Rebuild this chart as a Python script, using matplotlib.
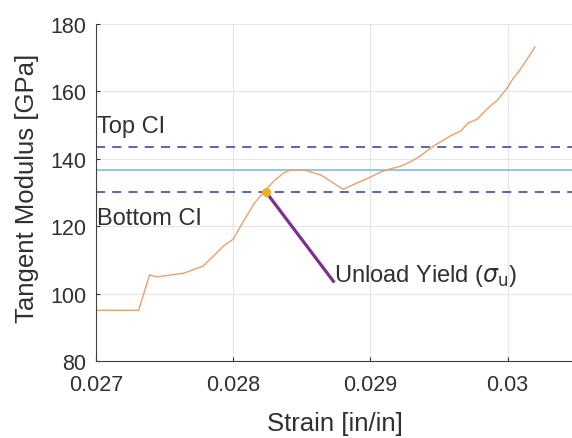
import matplotlib
matplotlib.use('Agg')
import matplotlib.pyplot as plt
import numpy as np

plt.rcParams['font.family'] = ['Liberation Sans', 'DejaVu Sans']
plt.rcParams['mathtext.fontset'] = 'dejavusans'

# tangent modulus curve
strain = [0.02700, 0.02731, 0.02739, 0.02744, 0.02764, 0.02778, 0.02793,
          0.02800, 0.02807, 0.02815, 0.02822, 0.02830, 0.02837, 0.02842,
          0.02851, 0.02864, 0.02880, 0.02890, 0.02900, 0.02908, 0.02915,
          0.02922, 0.02928, 0.02935, 0.02946, 0.02955, 0.02960, 0.02966,
          0.02971, 0.02978, 0.02985, 0.02993, 0.03000, 0.03004, 0.03009,
          0.03014, 0.03020]
modulus = [95.1, 95.1, 105.6, 105.0, 106.1, 108.2, 114.2,
           116.2, 121.2, 126.6, 130.1, 133.6, 135.9, 136.7,
           136.8, 135.2, 131.0, 132.8, 134.6, 136.2, 137.1,
           137.8, 138.9, 140.5, 143.8, 146.0, 147.2, 148.3,
           150.6, 151.8, 154.8, 157.6, 161.2, 163.8, 166.4,
           169.4, 173.2]

mean_mod = 136.8
top_ci = 143.6
bottom_ci = 130.1
yield_pt = (0.02824, 130.1)
label_pt = (0.02873, 103.7)

txt = '#303030'

fig = plt.figure(figsize=(5.72, 4.39), dpi=100)
ax = fig.add_axes([0.168, 0.175, 0.832, 0.768])

ax.grid(True, color='#e6e6e6', lw=0.8)
ax.set_axisbelow(True)

ax.axhline(mean_mod, color='#86c6da', lw=1.3)
ax.axhline(top_ci, color='#5555b0', lw=1.3, ls=(0, (5, 4)))
ax.axhline(bottom_ci, color='#5555b0', lw=1.3, ls=(0, (5, 4)))

ax.plot(strain, modulus, color='#e8a070', lw=1.0)
ax.plot([yield_pt[0], label_pt[0]], [yield_pt[1], label_pt[1]], color='#7E2F8E', lw=2.3)
ax.plot(*yield_pt, 'o', color='#EDB120', ms=5.5)

ax.text(0.02701, 149.7, 'Top CI', fontsize=17, va='center', color=txt)
ax.text(0.02701, 122.4, 'Bottom CI', fontsize=17, va='center', color=txt)
ax.text(label_pt[0] + 0.000005, label_pt[1], r'Unload Yield ($\sigma_{\mathrm{u}}$)',
        fontsize=17, va='baseline', color=txt)

ax.set_xlim(0.027, 0.03047)
ax.set_ylim(80, 180)
ax.set_xticks([0.027, 0.028, 0.029, 0.030])
ax.set_xticklabels(['0.027', '0.028', '0.029', '0.03'])
ax.set_yticks([80, 100, 120, 140, 160, 180])
ax.tick_params(direction='in', labelsize=15.5, colors=txt, length=3)
ax.tick_params(axis='x', pad=9)
ax.tick_params(axis='y', pad=7)
for s in ['top', 'right']:
    ax.spines[s].set_visible(False)
for s in ['left', 'bottom']:
    ax.spines[s].set_color('#404040')

fig.text(335 / 572, 1 - 424 / 439, 'Strain [in/in]', fontsize=18.5, color=txt,
         ha='center', va='center')
fig.text(27 / 572, 1 - 188 / 439, 'Tangent Modulus [GPa]', fontsize=18.5, color=txt,
         ha='center', va='center', rotation=90)

fig.savefig('out.png', dpi=100)
